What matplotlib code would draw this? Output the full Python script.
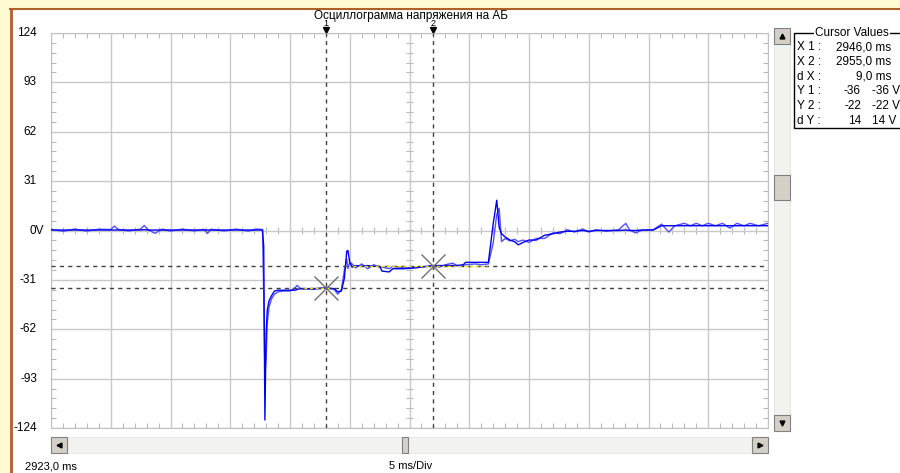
import numpy as np
import matplotlib
matplotlib.use('Agg')
import matplotlib.pyplot as plt
from matplotlib.patches import Rectangle
from matplotlib.lines import Line2D
from matplotlib import transforms

plt.rcParams['font.family'] = ['Liberation Sans', 'DejaVu Sans']

# --- Daten ---
zeit_ms = [2923.0, 2924.0, 2925.0, 2926.0, 2927.0, 2928.0, 2928.3, 2928.6, 2929.5, 2930.5,
           2930.8, 2931.1, 2931.7, 2932.3, 2933.0, 2934.0, 2935.0, 2935.8, 2936.1, 2936.4,
           2937.5, 2938.5, 2939.5, 2940.2, 2940.7, 2940.8, 2940.9, 2941.0, 2941.1, 2941.25,
           2941.45, 2941.7, 2942.0, 2942.5, 2943.0, 2943.4, 2943.6, 2943.9, 2945.0, 2946.0,
           2946.7, 2947.0, 2947.3, 2947.55, 2947.75, 2947.85, 2948.0, 2948.2, 2948.5, 2949.0,
           2949.5, 2950.0, 2950.5, 2950.7, 2951.3, 2951.6, 2952.5, 2953.5, 2954.5, 2955.0,
           2955.5, 2956.0, 2956.6, 2957.0, 2957.5, 2957.7, 2958.5, 2959.0, 2959.6, 2960.0,
           2960.3, 2960.5, 2960.7, 2961.0, 2961.4, 2961.8, 2962.1, 2962.5, 2963.0, 2963.6,
           2964.3, 2965.0, 2965.6, 2966.2, 2966.8, 2967.5, 2968.0, 2968.6, 2969.5, 2970.5,
           2971.1, 2971.4, 2971.9, 2972.5, 2973.4, 2974.1, 2974.7, 2975.2, 2976.0, 2976.5,
           2977.0, 2977.5, 2978.0, 2978.6, 2979.2, 2979.8, 2980.4, 2981.0, 2981.5, 2982.2,
           2983.0]

# Kanal 1 (dunkelblau)
spannung_1 = [0.3, 0.3, 0.3, 0.3, 0.3, 0.3, 0.3, 0.3, 0.3, 0.3,
              0.5, 0.3, 0.3, 0.3, 0.3, 0.3, 0.3, 0.3, 0.3, 0.3,
              0.3, 0.3, 0.3, 0.3, 0.3, -10.0, -119.0, -65.0, -50.0, -44.0,
              -41.0, -38.0, -37.5, -37.5, -37.5, -37.5, -37.0, -36.5, -36.5, -36.0,
              -36.5, -38.5, -38.0, -30.0, -13.0, -12.5, -20.0, -23.0, -22.0, -22.5,
              -22.0, -22.5, -22.5, -25.5, -26.0, -24.0, -24.0, -23.5, -22.5, -22.0,
              -22.0, -22.0, -22.0, -22.0, -21.5, -20.0, -20.0, -20.0, -20.0, 4.0,
              19.0, 2.0, -2.0, -4.0, -6.0, -7.0, -9.0, -7.5, -6.0, -6.0,
              -3.0, -2.0, -1.0, -0.5, -0.5, 0.0, -0.5, 0.0, 0.0, 0.0,
              0.3, 0.0, 0.0, 0.3, 0.3, 3.0, 3.0, 3.0, 3.0, 3.0,
              3.0, 3.0, 3.0, 3.0, 3.0, 3.0, 3.0, 3.0, 3.0, 3.0,
              3.0]

# Kanal 2 (hellblau)
spannung_2 = [0.8, -0.5, 0.9, -0.4, 0.8, 0.6, 2.8, 0.8, -0.3, 0.9,
              3.2, 0.6, -1.8, 0.9, -0.4, 0.9, -0.3, 0.8, -1.8, 0.8,
              -0.3, 0.9, -0.4, 0.9, 0.6, -40.0, -90.0, -80.0, -58.0, -48.0,
              -43.0, -40.0, -38.5, -38.0, -38.0, -36.0, -34.5, -36.5, -37.0, -36.0,
              -37.0, -40.0, -37.0, -25.0, -18.0, -24.0, -20.0, -21.0, -23.5, -21.0,
              -24.0, -21.5, -23.0, -23.0, -24.0, -22.5, -23.5, -23.0, -22.5, -22.0,
              -23.0, -21.5, -20.5, -22.0, -22.0, -21.5, -21.0, -21.5, -21.0, -8.0,
              10.0, 14.0, -7.0, -5.0, -6.5, -5.5, -7.0, -6.0, -7.5, -5.0,
              -5.0, -1.5, -2.0, 0.5, -1.0, 1.0, -1.0, 0.5, -0.5, 0.5,
              4.5, 0.5, -1.5, 0.3, 0.5, 4.0, -1.0, 3.0, 4.5, 3.0,
              4.5, 3.0, 4.5, 3.0, 4.5, 1.5, 4.5, 3.0, 4.5, 3.0,
              4.5]

# Cursor
cursor_x = [2946.0, 2955.0]
cursor_y = [-36.0, -22.0]
cursor_namen = ['1', '2']

y_ticks = [124, 93, 62, 31, 0, -31, -62, -93, -124]
y_labels = ['124', '93', '62', '31', '0V', '-31', '-62', '-93', '-124']

t_start = 2923.0
ms_pro_div = 5.0
anzahl_div = 12

cursor_tabelle = [('X 1 :', '2946,0 ms', ''), ('X 2 :', '2955,0 ms', ''), ('d X :', '9,0 ms', ''),
                  ('Y 1 :', '-36', '-36 V'), ('Y 2 :', '-22', '-22 V'), ('d Y :', '14', '14 V')]

W, H = 900, 473


def fx(px):
    return px / W


def fy(py):
    return 1 - py / H


fig = plt.figure(figsize=(W / 100, H / 100), dpi=100)
fig.patch.set_facecolor('white')

# gelber Rand + brauner Rahmen
fig.add_artist(Rectangle((0, 0), fx(10), 1, transform=fig.transFigure, color='#FFFAD2', zorder=0))
fig.add_artist(Rectangle((0, fy(9)), 1, 9 / H, transform=fig.transFigure, color='#FFFAD2', zorder=0))
fig.add_artist(Line2D([fx(11), fx(11)], [0, fy(9.5)], transform=fig.transFigure, color='#B0602A', lw=2))
fig.add_artist(Line2D([fx(10), 1], [fy(9.5), fy(9.5)], transform=fig.transFigure, color='#B0602A', lw=1.5))

# Plotbereich
ax = fig.add_axes([fx(51), fy(428), (768 - 51) / W, (428 - 33) / H])
t_end = t_start + ms_pro_div * anzahl_div
ax.set_xlim(t_start, t_end)
ax.set_ylim(-124, 124)

gitter_x = np.arange(t_start, t_end + 0.01, ms_pro_div)
minor_x = np.arange(t_start, t_end + 0.01, ms_pro_div / 5)
minor_y = np.arange(-124, 124.01, 31 / 5)

ax.set_xticks(gitter_x)
ax.set_xticks(minor_x, minor=True)
ax.set_yticks(y_ticks)
ax.set_yticks(minor_y, minor=True)
ax.tick_params(which='major', length=0, labelbottom=False, labelleft=False)
ax.tick_params(which='minor', direction='in', length=3.5, width=0.8, color='#B8B8B8',
               top=True, right=True, bottom=True, left=True)
ax.grid(True, which='major', color='#C8C8C8', lw=1)
for s in ax.spines.values():
    s.set_color('#C0C0C0')

# Skalenstriche auf den Mittelachsen
t_mitte = t_start + ms_pro_div * anzahl_div / 2
ax.vlines(minor_x, -2.5, 2.5, color='#B8B8B8', lw=0.8, zorder=1)
ax.hlines(minor_y, t_mitte - 0.3, t_mitte + 0.3, color='#B8B8B8', lw=0.8, zorder=1)

# Y-Beschriftung
trans = transforms.blended_transform_factory(fig.transFigure, ax.transData)
for wert, text in zip(y_ticks, y_labels):
    xpos = 44 if text == '0V' else 37
    ax.text(fx(xpos), wert, text, transform=trans, ha='right', va='center', fontsize=8.5,
            clip_on=False)

# Signale
ax.plot(zeit_ms, spannung_2, color='#5050FF', lw=1, zorder=3)
ax.plot(zeit_ms, spannung_1, color='#0000F0', lw=1, zorder=4)

# Cursorlinien
for cx in cursor_x:
    ax.axvline(cx, color='#404040', lw=1, ls=(0, (3, 3)), zorder=5)
for cy in cursor_y:
    ax.axhline(cy, color='#404040', lw=1, ls=(0, (3, 3)), zorder=5)
# gelb, wo Cursor ueber Signal liegt
ax.hlines(cursor_y[0], 2944.2, cursor_x[0] + 0.5, color='#F0E000', lw=1, ls=(0, (2, 2)), zorder=6)
ax.hlines(cursor_y[1], 2948.3, 2959.5, color='#F0E000', lw=1, ls=(0, (2, 2)), zorder=6)
ax.plot(cursor_x, cursor_y, ls='none', marker='x', ms=17, mew=1, color='#707070', zorder=7)

# Cursor-Markierungen oben
xtrans = transforms.blended_transform_factory(ax.transData, fig.transFigure)
for cx, name in zip(cursor_x, cursor_namen):
    ax.plot([cx], [fy(30)], transform=xtrans, marker='v', ms=4, color='black', clip_on=False)
    ax.text(cx, fy(24), name, transform=xtrans, ha='center', va='center', fontsize=6.5,
            clip_on=False)

fig.text(fx(411), fy(16), 'Осциллограмма напряжения на АБ', ha='center', va='center', fontsize=8.5)


def knopf(x0, y0, w, h):
    fig.add_artist(Rectangle((fx(x0), fy(y0 + h)), w / W, h / H, transform=fig.transFigure,
                             facecolor='#D4D0C8', edgecolor='#808080', lw=0.8, zorder=3))


def pfeil(x, y, m):
    fig.add_artist(Line2D([fx(x)], [fy(y)], transform=fig.transFigure, marker=m, ms=3.5,
                          color='black', zorder=4))


# vertikale Scrollbar
fig.add_artist(Rectangle((fx(774), fy(431)), 16 / W, (431 - 28) / H, transform=fig.transFigure,
                         facecolor='#F2F2EE', edgecolor='#E0E0E0', lw=0.5, zorder=2))
knopf(774, 28, 16, 16)
pfeil(782, 36, '^')
knopf(774, 415, 16, 16)
pfeil(782, 423, 'v')
knopf(774, 175, 16, 25)

# horizontale Scrollbar
fig.add_artist(Rectangle((fx(51), fy(453)), (768 - 51) / W, 16 / H, transform=fig.transFigure,
                         facecolor='#F2F2EE', edgecolor='#E0E0E0', lw=0.5, zorder=2))
knopf(51, 437, 16, 16)
pfeil(59, 445, '<')
knopf(752, 437, 16, 16)
pfeil(760, 445, '>')
knopf(402, 437, 6, 16)

fig.text(fx(25), fy(466), '2923,0 ms', ha='left', va='center', fontsize=8)
fig.text(fx(411), fy(466), '5 ms/Div', ha='center', va='center', fontsize=8)

# Cursor Values Kasten
fig.add_artist(Rectangle((fx(794), fy(128)), 120 / W, (128 - 33) / H, transform=fig.transFigure,
                         facecolor='white', edgecolor='black', lw=1, zorder=2))
fig.text(fx(852), fy(33), 'Cursor Values', ha='center', va='center', fontsize=8.5,
         bbox=dict(facecolor='white', edgecolor='none', pad=1), zorder=3)
for i, (name, wert, einheit) in enumerate(cursor_tabelle):
    yy = 47 + i * 14.8
    fig.text(fx(797), fy(yy), name, ha='left', va='center', fontsize=8.5, zorder=3)
    if einheit:
        fig.text(fx(861), fy(yy), wert, ha='right', va='center', fontsize=8.5, zorder=3)
        fig.text(fx(872), fy(yy), einheit, ha='left', va='center', fontsize=8.5, zorder=3)
    else:
        fig.text(fx(891), fy(yy), wert, ha='right', va='center', fontsize=8.5, zorder=3)

plt.savefig('out.png', dpi=100)
